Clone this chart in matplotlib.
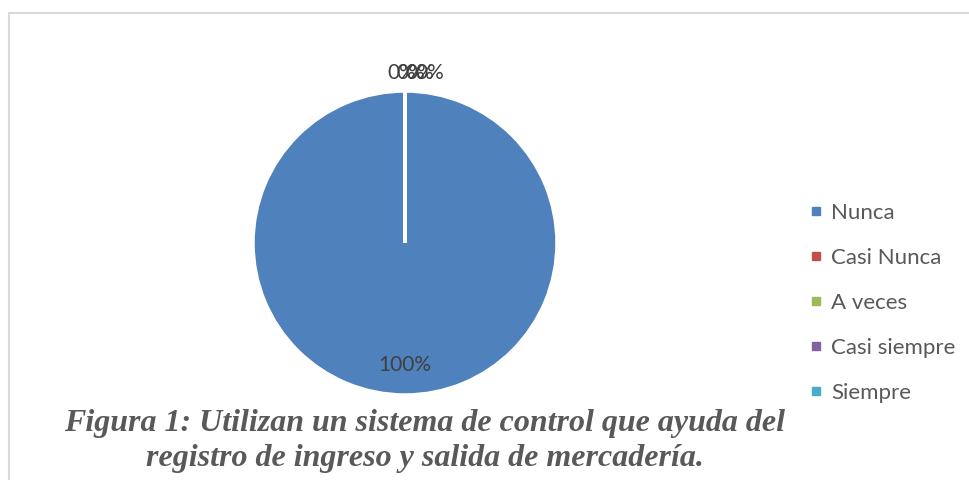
import matplotlib.pyplot as plt
from matplotlib.patches import Rectangle
import numpy as np

# --- Data ---
categories = ['Nunca', 'Casi Nunca', 'A veces', 'Casi siempre', 'Siempre']
percentages = [100, 0, 0, 0, 0]
colors = ['#4F81BD', '#C0504D', '#9BBB59', '#8064A2', '#4BACC6']
title = 'Figura 1: Utilizan un sistema de control que ayuda del\nregistro de ingreso y salida de mercadería.'

TEXT_GRAY = '#595959'

fig = plt.figure(figsize=(9.69, 4.80), dpi=100)

# light gray chart frame (runs off the right and bottom edges)
fig.patches.append(Rectangle((9 / 969, -0.1), 1.2, (480 - 13) / 480 + 0.1,
                             transform=fig.transFigure, fill=False,
                             edgecolor='#D9D9D9', linewidth=1.5))

ax = fig.add_axes([253 / 969, (480 - 395) / 480, 304 / 969, 304 / 480])
wedges, _ = ax.pie(percentages, colors=colors, startangle=90, counterclock=False,
                   wedgeprops=dict(edgecolor='white', linewidth=2.5))
ax.set_aspect('equal')
ax.set_xlim(-1, 1)
ax.set_ylim(-1, 1)

# percentage labels: big slice inside, empty slices stacked outside at the top
# (they overlap in the original too)
zero_idx = 0
for w, pct in zip(wedges, percentages):
    mid = np.deg2rad((w.theta1 + w.theta2) / 2)
    if pct > 0:
        r = 0.80
        dx = 0
    else:
        r = 1.12
        dx = -0.02 + 0.06 * zero_idx
        zero_idx += 1
    ax.text(r * np.cos(mid) + dx, r * np.sin(mid), f'{pct:.0f}%',
            ha='center', va='center', fontsize=15, color='#404040',
            family='Lato')

# legend
handles = [plt.Line2D([0], [0], marker='s', linestyle='none', markersize=6,
                      markerfacecolor=c, markeredgecolor=c) for c in colors]
leg = fig.legend(handles, categories, loc='upper left',
                 bbox_to_anchor=(789 / 969, 1 - 183 / 480), frameon=False,
                 handlelength=0.6, handletextpad=0.4, labelspacing=1.12,
                 prop=dict(family='Lato', size=16))
for t in leg.get_texts():
    t.set_color(TEXT_GRAY)

fig.text(425 / 969, 1 - 441 / 480, title, ha='center', va='center',
         family='Liberation Serif', fontsize=23, fontweight='bold',
         style='italic', color=TEXT_GRAY, linespacing=1.3)

fig.savefig('out.png', dpi=100, facecolor='white')
